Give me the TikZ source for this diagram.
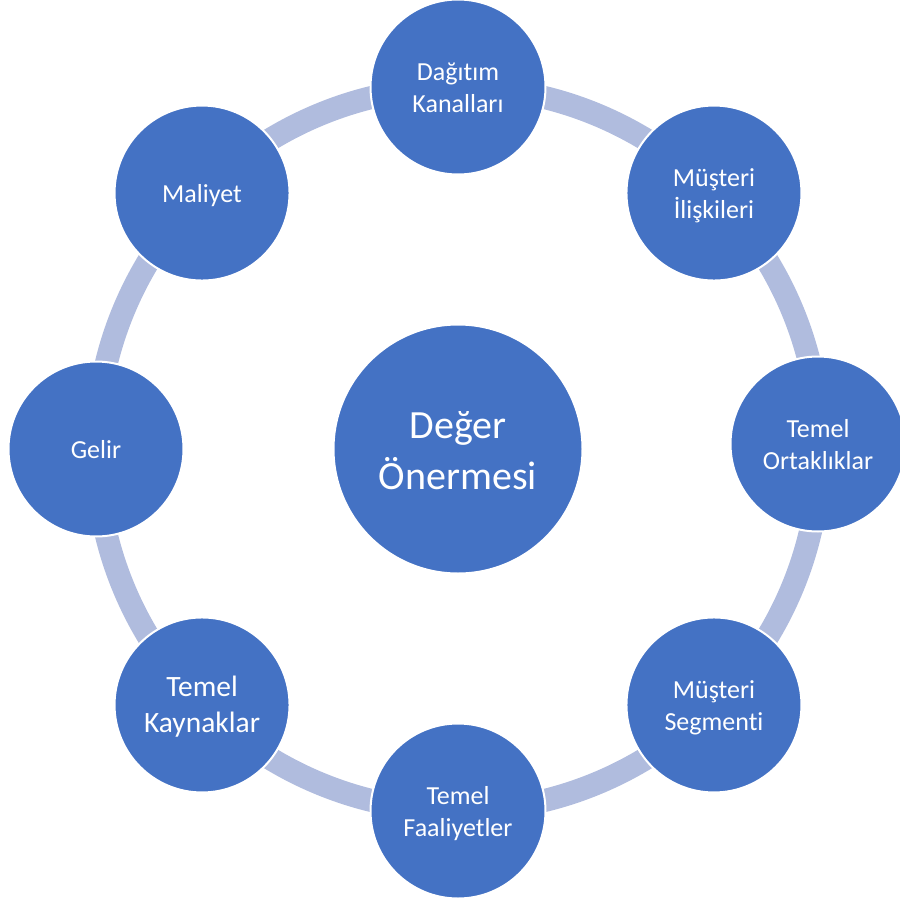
\documentclass[tikz,border=0pt]{standalone}
\usepackage{fontspec}
\setmainfont{Carlito}[Ligatures=NoCommon]
\usetikzlibrary{backgrounds}
\definecolor{nodeblue}{RGB}{68,114,196}
\definecolor{ringblue}{RGB}{176,188,222}
\newcommand\ostrut{\rule[-6pt]{0pt}{31pt}}
\newcommand\kstrut{\rule[-6pt]{0pt}{31.5pt}}
\newcommand\cstrut{\rule[-10pt]{0pt}{49.6pt}}
\begin{document}
\begin{tikzpicture}[x=1pt,y=1pt,
  outer/.style={circle, fill=nodeblue, draw=white, line width=2pt, minimum size=175pt, inner sep=0pt, text=white, align=center, font=\fontsize{26}{32}\selectfont},
  bigger/.style={font=\fontsize{29.5}{36}\selectfont},
  core/.style={circle, fill=nodeblue, draw=white, line width=2pt, minimum size=249pt, inner sep=0pt, text=white, align=center, font=\fontsize{40}{49}\selectfont},
  ringarc/.style={draw=ringblue, line width=23pt}]
\useasboundingbox (0,0) rectangle (900,-899);
\coordinate (c) at (458,-449);
\def\R{362}
\node[core] (val) at (c) {\cstrut Değer\\\cstrut Önermesi};
\node[outer] (dag) at ([shift={(90:\R)}]c) {\ostrut Dağıtım\\\ostrut Kanalları};
\node[outer] (mus) at ([shift={(45:\R)}]c) {\ostrut Müşteri\\\ostrut İlişkileri};
\node[outer] (ort) at (818,-444) {\ostrut Temel\\\ostrut Ortaklıklar};
\node[outer] (seg) at ([shift={(-45:\R)}]c) {\ostrut Müşteri\\\ostrut Segmenti};
\node[outer] (fa) at ([shift={(-90:\R)}]c) {\ostrut Temel\\\ostrut Faaliyetler};
\node[outer, bigger] (kay) at ([shift={(-135:\R)}]c) {\kstrut Temel\\\kstrut Kaynaklar};
\node[outer] (gel) at ([shift={(180:\R)}]c) {\ostrut Gelir};
\node[outer] (mal) at ([shift={(135:\R)}]c) {\ostrut Maliyet};
\begin{scope}[on background layer]
\draw[ringarc] (dag.center) arc[start angle=90, delta angle=-45, radius=\R];
\draw[ringarc] (mus.center) arc[start angle=45, delta angle=-45, radius=\R];
\draw[ringarc] (seg.center) arc[start angle=-45, delta angle=45, radius=\R];
\draw[ringarc] (seg.center) arc[start angle=-45, delta angle=-45, radius=\R];
\draw[ringarc] (fa.center) arc[start angle=-90, delta angle=-45, radius=\R];
\draw[ringarc] (kay.center) arc[start angle=-135, delta angle=-45, radius=\R];
\draw[ringarc] (gel.center) arc[start angle=180, delta angle=-45, radius=\R];
\draw[ringarc] (mal.center) arc[start angle=135, delta angle=-45, radius=\R];
\end{scope}
\end{tikzpicture}
\end{document}
